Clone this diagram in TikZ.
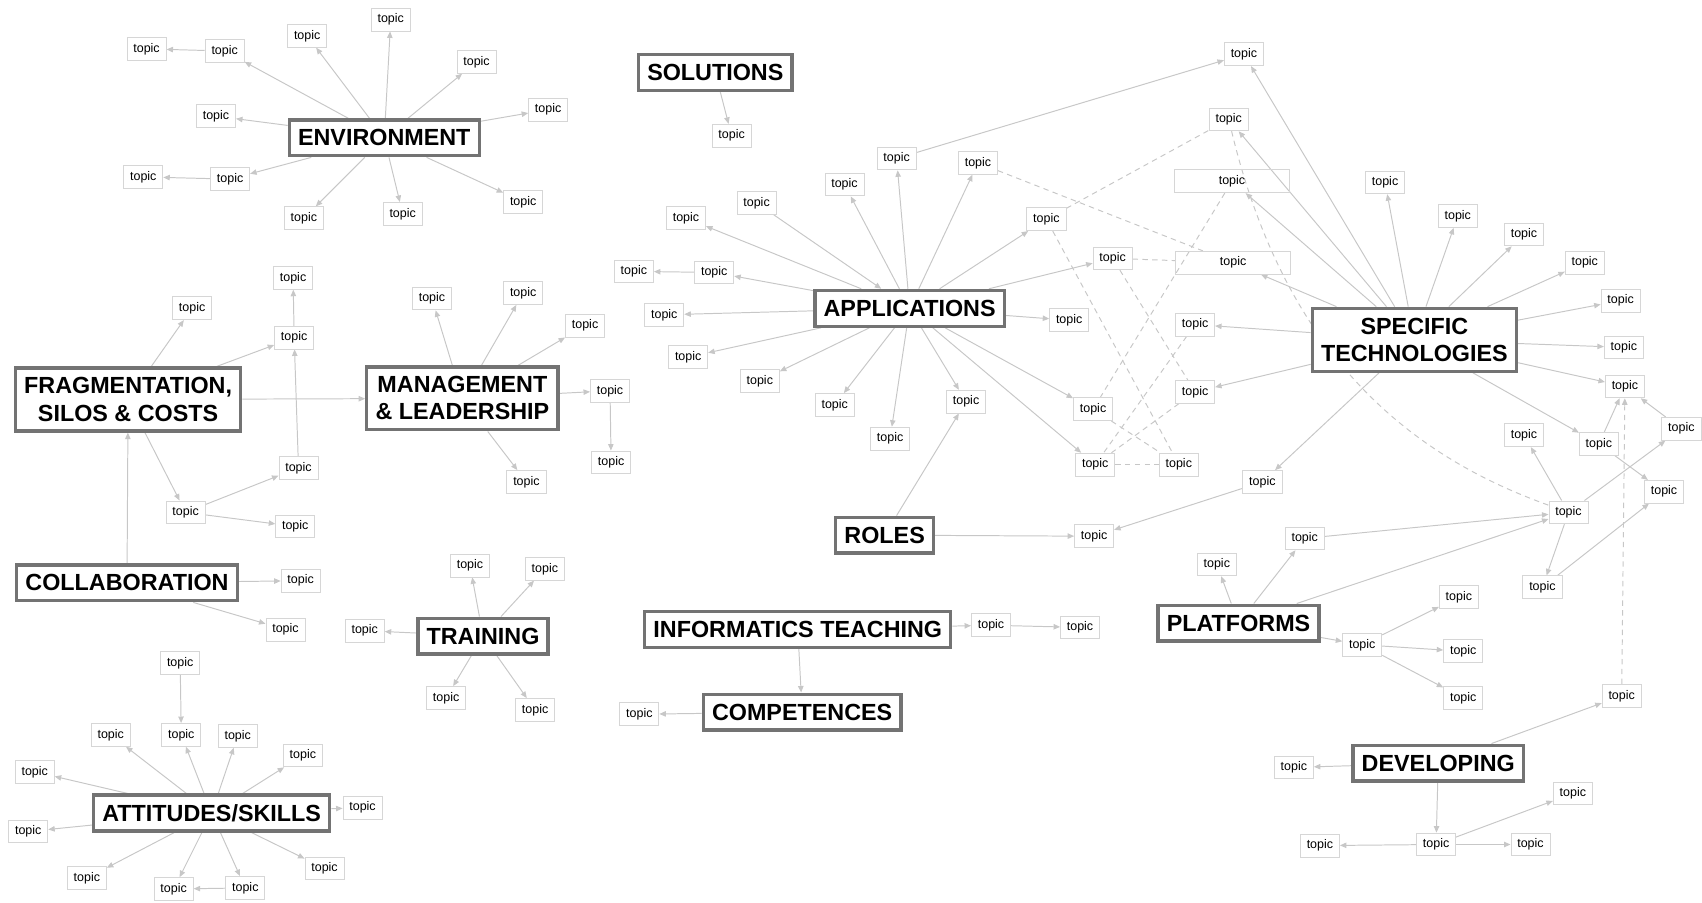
\documentclass[tikz,border=0pt]{standalone}
\usepackage{fontspec}
\setmainfont{Liberation Sans}
\usetikzlibrary{arrows.meta,backgrounds}

\begin{document}
\begin{tikzpicture}[
  x=1pt, y=-1pt,
  theme/.style={draw=black!55, line width=3pt, fill=white, align=center,
                inner xsep=8pt, minimum height=33pt, font=\bfseries\fontsize{21.5}{25}\selectfont},
  twoline/.style={theme, minimum height=58pt},
  topic/.style={draw=black!16, line width=0.8pt, minimum width=36pt, minimum height=21pt,
                inner sep=0pt, font=\fontsize{11.5}{13}\selectfont},
  widetopic/.style={topic, minimum width=106pt},
  link/.style={draw=black!22, line width=0.9pt, -{Triangle[length=6pt,width=5pt]}},
  dlink/.style={draw=black!22, line width=0.9pt, dash pattern=on 5pt off 4pt}
]
\useasboundingbox (0,0) rectangle (1568,831);

% themes
\node[theme] (env) at (354,127) {ENVIRONMENT};
\node[theme] (sol) at (659,67) {SOLUTIONS};
\node[twoline] (frag) at (118,368) {FRAGMENTATION,\\SILOS \& COSTS};
\node[twoline] (mgmt) at (426,367) {MANAGEMENT\\\& LEADERSHIP};
\node[theme] (collab) at (117,537) {COLLABORATION};
\node[theme] (train) at (445,586) {TRAINING};
\node[theme] (skills) at (195,749) {ATTITUDES/SKILLS};
\node[theme] (info) at (735,580) {INFORMATICS TEACHING};
\node[theme] (comp) at (739,656) {COMPETENCES};
\node[theme] (apps) at (838,284) {APPLICATIONS};
\node[theme] (roles) at (815,493) {ROLES};
\node[twoline] (spec) at (1303,313) {SPECIFIC\\TECHNOLOGIES};
\node[theme] (plat) at (1141,574) {PLATFORMS};
\node[theme] (dev) at (1325,703) {DEVELOPING};

% environment
\node[topic] (e0) at (135,45) {topic};
\node[topic] (e1) at (207,47) {topic};
\node[topic] (e2) at (283,33) {topic};
\node[topic] (e3) at (360,18) {topic};
\node[topic] (e4) at (439,57) {topic};
\node[topic] (e5) at (505,101) {topic};
\node[topic] (e6) at (199,107) {topic};
\node[topic] (e7) at (212,165) {topic};
\node[topic] (e8) at (132,163) {topic};
\node[topic] (e9) at (280,201) {topic};
\node[topic] (e10) at (371,197) {topic};
\node[topic] (e11) at (482,186) {topic};
\node[topic] (s1) at (674,125) {topic};

% fragmentation, management, collaboration
\node[topic] (f1) at (177,284) {topic};
\node[topic] (f2) at (271,311) {topic};
\node[topic] (f3) at (270,256) {topic};
\node[topic] (f4) at (275,431) {topic};
\node[topic] (f5) at (171,472) {topic};
\node[topic] (f6) at (272,485) {topic};
\node[topic] (m1) at (398,275) {topic};
\node[topic] (m2) at (482,270) {topic};
\node[topic] (m3) at (539,300) {topic};
\node[topic] (m4) at (562,360) {topic};
\node[topic] (m5) at (485,444) {topic};
\node[topic] (m6) at (563,426) {topic};
\node[topic] (c1) at (277,535) {topic};
\node[topic] (c2) at (263,580) {topic};

% training, attitudes
\node[topic] (t1) at (433,521) {topic};
\node[topic] (t2) at (502,524) {topic};
\node[topic] (t3) at (336,581) {topic};
\node[topic] (t4) at (411,643) {topic};
\node[topic] (t5) at (493,654) {topic};
\node[topic] (a1) at (166,611) {topic};
\node[topic] (a2) at (167,677) {topic};
\node[topic] (a3) at (102,677) {topic};
\node[topic] (a4) at (219,678) {topic};
\node[topic] (a5) at (279,696) {topic};
\node[topic] (a6) at (32,711) {topic};
\node[topic] (a7) at (334,744) {topic};
\node[topic] (a8) at (26,766) {topic};
\node[topic] (a9) at (80,809) {topic};
\node[topic] (a10) at (160,819) {topic};
\node[topic] (a11) at (226,818) {topic};
\node[topic] (a12) at (299,800) {topic};

% informatics teaching, competences
\node[topic] (i1) at (913,576) {topic};
\node[topic] (i2) at (995,578) {topic};
\node[topic] (k1) at (589,658) {topic};

% applications
\node[topic] (ap1) at (632,201) {topic};
\node[topic] (ap2) at (697,187) {topic};
\node[topic] (ap3) at (778,170) {topic};
\node[topic] (ap4) at (826,146) {topic};
\node[topic] (ap5) at (901,150) {topic};
\node[topic] (ap6) at (964,202) {topic};
\node[topic] (ap7) at (1025,238) {topic};
\node[topic] (ap8) at (658,251) {topic};
\node[topic] (ap9) at (584,250) {topic};
\node[topic] (ap10) at (612,290) {topic};
\node[topic] (ap11) at (634,329) {topic};
\node[topic] (ap12) at (700,351) {topic};
\node[topic] (ap13) at (769,373) {topic};
\node[topic] (ap14) at (820,404) {topic};
\node[topic] (ap15) at (890,370) {topic};
\node[topic] (ap16) at (985,295) {topic};
\node[topic] (ap17) at (1007,377) {topic};
\node[topic] (ap18) at (1009,428) {topic};
\node[topic] (r1) at (1008,494) {topic};

% specific technologies
\node[topic] (tt) at (1146,50) {topic};
\node[topic] (ts1) at (1132,110) {topic};
\node[widetopic] (ts2) at (1135,167) {topic};
\node[widetopic] (ts3) at (1136,242) {topic};
\node[topic] (ts4) at (1101,299) {topic};
\node[topic] (ts5) at (1101,361) {topic};
\node[topic] (ts6) at (1086,428) {topic};
\node[topic] (ts7) at (1163,444) {topic};
\node[topic] (st1) at (1276,168) {topic};
\node[topic] (st2) at (1343,199) {topic};
\node[topic] (st3) at (1404,216) {topic};
\node[topic] (st4) at (1460,242) {topic};
\node[topic] (st5) at (1493,277) {topic};
\node[topic] (st6) at (1496,320) {topic};
\node[topic] (st7) at (1497,356) {topic};
\node[topic] (st8) at (1473,409) {topic};
\node[topic] (st9) at (1533,453) {topic};
\node[topic] (st10) at (1549,395) {topic};

% platforms, developing
\node[topic] (p0) at (1445,472) {topic};
\node[topic] (p1) at (1404,401) {topic};
\node[topic] (p2) at (1421,541) {topic};
\node[topic] (p3) at (1202,496) {topic};
\node[topic] (p4) at (1121,520) {topic};
\node[topic] (pl0) at (1255,594) {topic};
\node[topic] (pl1) at (1344,550) {topic};
\node[topic] (pl2) at (1348,600) {topic};
\node[topic] (pl3) at (1348,643) {topic};
\node[topic] (dv1) at (1494,641) {topic};
\node[topic] (dv2) at (1192,707) {topic};
\node[topic] (dv3) at (1323,778) {topic};
\node[topic] (dv4) at (1216,779) {topic};
\node[topic] (dv5) at (1410,778) {topic};
\node[topic] (dv6) at (1449,731) {topic};

\begin{scope}[on background layer]
\draw[link] (env) -- (e1);
\draw[link] (env) -- (e2);
\draw[link] (env) -- (e3);
\draw[link] (env) -- (e4);
\draw[link] (env) -- (e5);
\draw[link] (env) -- (e6);
\draw[link] (env) -- (e7);
\draw[link] (env) -- (e9);
\draw[link] (env) -- (e10);
\draw[link] (env) -- (e11);
\draw[link] (e1) -- (e0);
\draw[link] (e7) -- (e8);
\draw[link] (sol) -- (s1);

\draw[link] (frag) -- (f1);
\draw[link] (frag) -- (f2);
\draw[link] (frag) -- (f5);
\draw[link] (frag) -- (mgmt);
\draw[link] (f2) -- (f3);
\draw[link] (f4) -- (f2);
\draw[link] (f5) -- (f4);
\draw[link] (f5) -- (f6);
\draw[link] (collab) -- (frag);
\draw[link] (collab) -- (c1);
\draw[link] (collab) -- (c2);
\draw[link] (mgmt) -- (m1);
\draw[link] (mgmt) -- (m2);
\draw[link] (mgmt) -- (m3);
\draw[link] (mgmt) -- (m4);
\draw[link] (mgmt) -- (m5);
\draw[link] (m4) -- (m6);

\draw[link] (train) -- (t1);
\draw[link] (train) -- (t2);
\draw[link] (train) -- (t3);
\draw[link] (train) -- (t4);
\draw[link] (train) -- (t5);
\draw[link] (a1) -- (a2);
\draw[link] (skills) -- (a2);
\draw[link] (skills) -- (a3);
\draw[link] (skills) -- (a4);
\draw[link] (skills) -- (a5);
\draw[link] (skills) -- (a6);
\draw[link] (skills) -- (a7);
\draw[link] (skills) -- (a8);
\draw[link] (skills) -- (a9);
\draw[link] (skills) -- (a10);
\draw[link] (skills) -- (a11);
\draw[link] (skills) -- (a12);
\draw[link] (a11) -- (a10);

\draw[link] (info) -- (i1);
\draw[link] (i1) -- (i2);
\draw[link] (info) -- (comp);
\draw[link] (comp) -- (k1);

\draw[link] (apps) -- (ap1);
\draw[link] (ap2) -- (apps);
\draw[link] (apps) -- (ap3);
\draw[link] (apps) -- (ap4);
\draw[link] (apps) -- (ap5);
\draw[link] (apps) -- (ap6);
\draw[link] (apps) -- (ap7);
\draw[link] (apps) -- (ap8);
\draw[link] (ap8) -- (ap9);
\draw[link] (apps) -- (ap10);
\draw[link] (apps) -- (ap11);
\draw[link] (apps) -- (ap12);
\draw[link] (apps) -- (ap13);
\draw[link] (apps) -- (ap14);
\draw[link] (apps) -- (ap15);
\draw[link] (apps) -- (ap16);
\draw[link] (apps) -- (ap17);
\draw[link] (apps) -- (ap18);
\draw[link] (ap4) -- (tt);
\draw[link] (roles) -- (ap15);
\draw[link] (roles) -- (r1);
\draw[link] (ts7) -- (r1);

\draw[link] (spec) -- (tt);
\draw[link] (spec) -- (ts1);
\draw[link] (spec) -- (ts2);
\draw[link] (spec) -- (ts3);
\draw[link] (spec) -- (ts4);
\draw[link] (spec) -- (ts5);
\draw[link] (spec) -- (ts7);
\draw[link] (spec) -- (st1);
\draw[link] (spec) -- (st2);
\draw[link] (spec) -- (st3);
\draw[link] (spec) -- (st4);
\draw[link] (spec) -- (st5);
\draw[link] (spec) -- (st6);
\draw[link] (spec) -- (st7);
\draw[link] (spec) -- (st8);
\draw[link] (st8) -- (st7);
\draw[link] (st8) -- (st9);
\draw[link] (st10) -- (st7);
\draw[link] (p0) -- (st10);
\draw[link] (p0) -- (p1);
\draw[link] (p0) -- (p2);
\draw[link] (p2) -- (st9);
\draw[link] (p3) -- (p0);

\draw[link] (plat) -- (p4);
\draw[link] (plat) -- (p3);
\draw[link] (plat) -- (p0);
\draw[link] (plat) -- (pl0);
\draw[link] (pl0) -- (pl1);
\draw[link] (pl0) -- (pl2);
\draw[link] (pl0) -- (pl3);
\draw[link] (dev) -- (dv1);
\draw[link] (dev) -- (dv2);
\draw[link] (dev) -- (dv3);
\draw[link] (dv3) -- (dv4);
\draw[link] (dv3) -- (dv5);
\draw[link] (dv3) -- (dv6);
\draw[link, dash pattern=on 5pt off 4pt] (dv1) -- (st7);

% loose associations
\draw[dlink] (ap5) -- (ts3);
\draw[dlink] (ap6) -- (ts1);
\draw[dlink] (ap6) -- (ts6);
\draw[dlink] (ap7) -- (ts3);
\draw[dlink] (ap7) -- (ts5);
\draw[dlink] (ts2) -- (ap17);
\draw[dlink] (ts4) -- (ap18);
\draw[dlink] (ts5) -- (ap18);
\draw[dlink] (ap17) -- (ts6);
\draw[dlink] (ap18) -- (ts6);
\draw[dlink] (ts1) .. controls (1185,330) and (1300,420) .. (p0);
\end{scope}
\end{tikzpicture}
\end{document}
